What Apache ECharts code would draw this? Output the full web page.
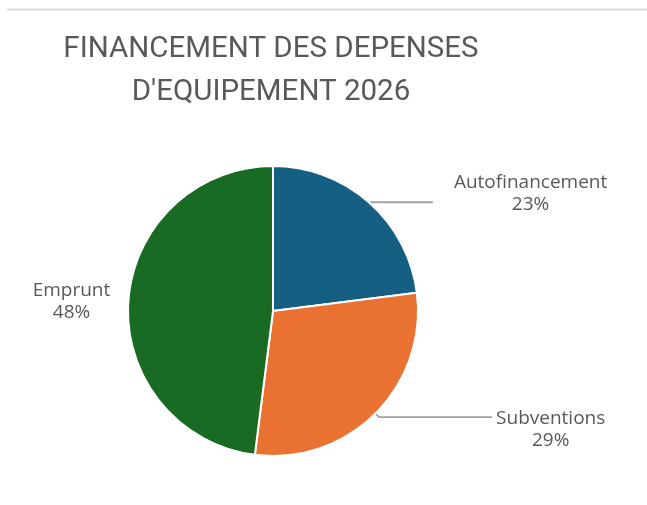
<!DOCTYPE html>
<html>
<head>
<meta charset="utf-8">
<script src="https://cdn.jsdelivr.net/npm/echarts@6/dist/echarts.min.js"></script>
<style>
  html, body { margin: 0; padding: 0; background: #fff; }
  #chart { width: 647px; height: 505px; }
</style>
</head>
<body>
<div id="chart"></div>
<script>
// données
const categories = ['Autofinancement', 'Subventions', 'Emprunt'];
const values = [23, 29, 48];
const colors = ['#156082', '#E97132', '#196B24'];

// réglages des étiquettes (longueur des traits, marges)
const lineLen = [0, 5, 0];
const lineLen2 = [64, 113, 0];
const labelGap = [21, 4, 18];
const labelPad = [[0, 0, 18, 0], [26, 0, 0, 0], [0, 0, 0, 0]];

const myChart = echarts.init(document.getElementById('chart'));

const data = categories.map((name, i) => ({
  name: name,
  value: values[i],
  itemStyle: { color: colors[i] },
  label: { distanceToLabelLine: labelGap[i], padding: labelPad[i] },
  labelLine: { show: i !== 2, length: lineLen[i], length2: lineLen2[i] }
}));

myChart.setOption({
  animation: false,
  backgroundColor: '#fff',
  title: {
    text: "FINANCEMENT DES DEPENSES\nD'EQUIPEMENT 2026",
    left: 271,
    top: 28,
    padding: 0,
    textAlign: 'center',
    textStyle: {
      fontFamily: 'Roboto',
      fontWeight: 'normal',
      fontSize: 29.5,
      lineHeight: 43,
      color: '#595959'
    }
  },
  graphic: [{
    type: 'line',
    shape: { x1: 7, y1: 9.5, x2: 647, y2: 9.5 },
    style: { stroke: '#d9d9d9', lineWidth: 2 }
  }],
  series: [{
    type: 'pie',
    center: [273, 311],
    radius: 145,
    startAngle: 90,
    clockwise: true,
    percentPrecision: 0,
    avoidLabelOverlap: false,
    itemStyle: { borderColor: '#fff', borderWidth: 2 },
    label: {
      show: true,
      position: 'outside',
      formatter: '{c|{b}}\n{c|{d}%}',
      color: '#595959',
      fontFamily: 'Open Sans',
      fontSize: 19,
      lineHeight: 22,
      rich: {
        c: { align: 'center', fontFamily: 'Open Sans', fontSize: 19, lineHeight: 22, color: '#595959' }
      }
    },
    labelLine: {
      lineStyle: { color: '#a0a0a0', width: 1.8 }
    },
    emphasis: { disabled: true },
    data: data
  }]
});
</script>
</body>
</html>
